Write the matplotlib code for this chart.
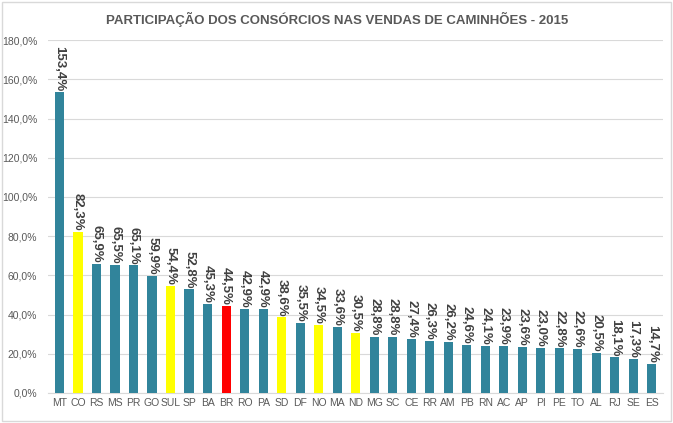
import matplotlib
matplotlib.use("Agg")
import matplotlib.pyplot as plt
from matplotlib.patches import Rectangle
from matplotlib.ticker import FuncFormatter

plt.rcParams["font.family"] = ["Liberation Sans Narrow", "Liberation Sans", "DejaVu Sans"]

states = ["MT", "CO", "RS", "MS", "PR", "GO", "SUL", "SP", "BA", "BR", "RO", "PA",
          "SD", "DF", "NO", "MA", "ND", "MG", "SC", "CE", "RR", "AM", "PB", "RN",
          "AC", "AP", "PI", "PE", "TO", "AL", "RJ", "SE", "ES"]
values = [153.4, 82.3, 65.9, 65.5, 65.1, 59.9, 54.4, 52.8, 45.3, 44.5, 42.9, 42.9,
          38.6, 35.5, 34.5, 33.6, 30.5, 28.8, 28.8, 27.4, 26.3, 26.2, 24.6, 24.1,
          23.9, 23.6, 23.0, 22.8, 22.6, 20.5, 18.1, 17.3, 14.7]
regions = ["CO", "SUL", "SD", "NO", "ND"]
total = "BR"

TEAL = "#31849B"
colors = ["#FF0000" if s == total else "#FFFF00" if s in regions else TEAL for s in states]

fig = plt.figure(figsize=(6.73, 4.23), dpi=100)
fig.patches.append(Rectangle((0.003, 0.005), 0.994, 0.99, transform=fig.transFigure,
                             fill=False, edgecolor="#D9D9D9", linewidth=1))
ax = fig.add_axes([0.072, 0.071, 0.913, 0.834])

x = range(len(states))
ax.bar(x, values, width=0.5, color=colors, zorder=3)
for i, v in enumerate(values):
    ax.text(i, v + 0.6, f"{v:.1f}%".replace(".", ","), rotation=270,
            ha="center", va="bottom", fontsize=9.5, fontweight="bold", color="#404040")

ax.set_ylim(0, 180)
ax.set_xlim(-0.6, len(states) - 0.4)
ax.set_yticks(range(0, 181, 20))
ax.yaxis.set_major_formatter(FuncFormatter(lambda v, p: f"{v:.1f}%".replace(".", ",")))
ax.set_xticks(list(x))
ax.set_xticklabels(states)
ax.tick_params(axis="both", length=0, labelsize=7.5, labelcolor="#595959")
ax.tick_params(axis="y", pad=8)
ax.grid(axis="y", color="#D9D9D9", linewidth=0.8, zorder=0)
for s in ["top", "right", "left"]:
    ax.spines[s].set_visible(False)
ax.spines["bottom"].set_color("#D9D9D9")

fig.text(0.501, 0.955, "PARTICIPAÇÃO DOS CONSÓRCIOS NAS VENDAS DE CAMINHÕES - 2015",
         ha="center", va="center", fontsize=9.5, fontweight="bold", color="#595959")

fig.savefig("out.png", dpi=100)
